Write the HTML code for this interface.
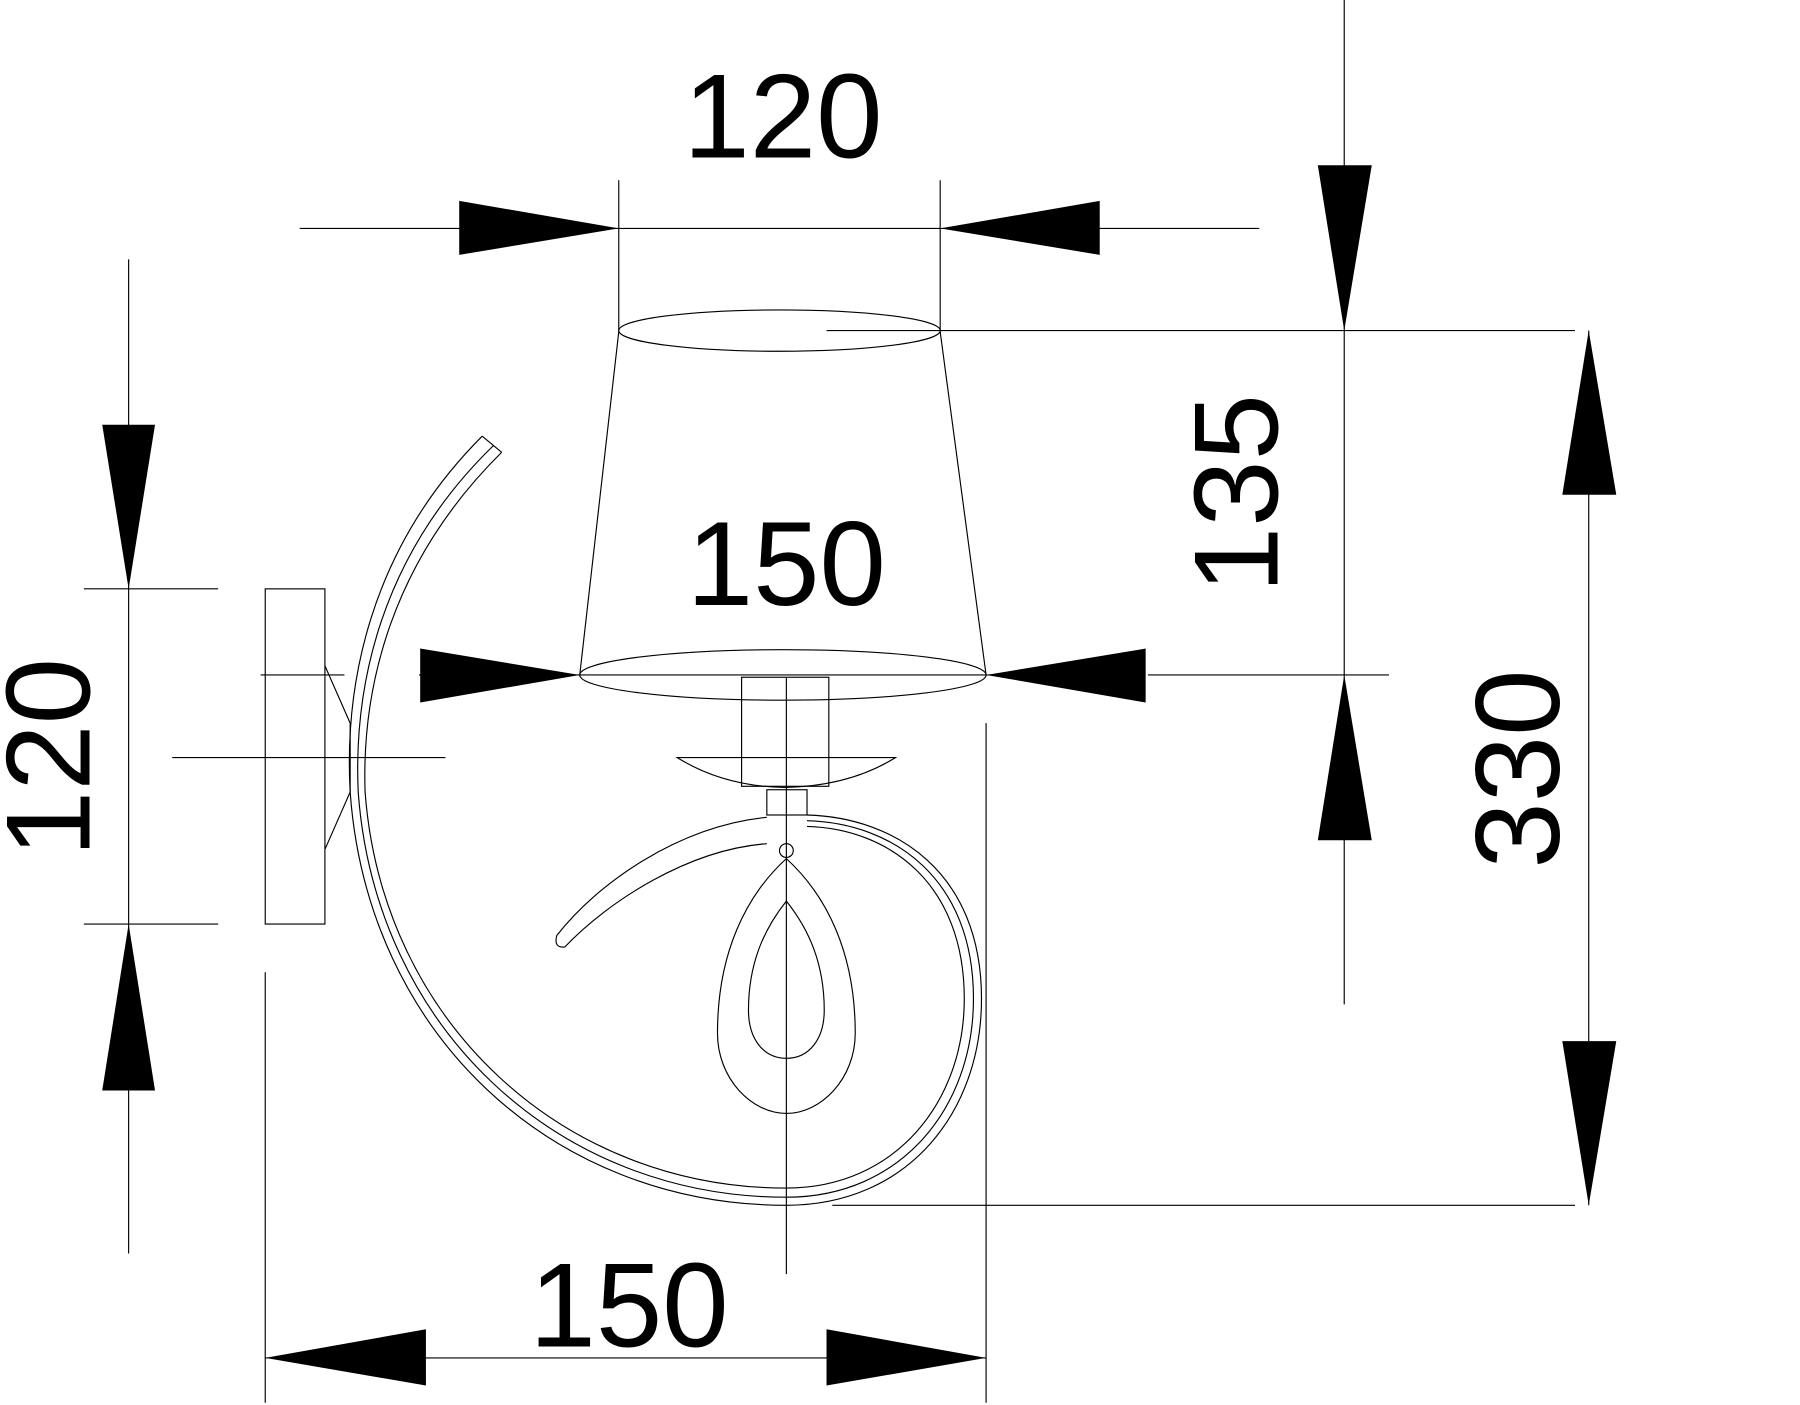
<!DOCTYPE html>
<html><head><meta charset="utf-8"><style>
html,body{margin:0;padding:0;background:#fff;}
svg{display:block}
text{font-family:"Liberation Sans",sans-serif;font-size:104px;fill:#000;}
</style></head><body>
<svg width="1800" height="1405" viewBox="0 0 1568 1224" xmlns="http://www.w3.org/2000/svg">
<g stroke="#000" stroke-width="1" fill="none">
<!-- top dim 120 -->
<line x1="261" y1="199" x2="1097" y2="199"/>
<line x1="539" y1="157" x2="539" y2="290"/>
<line x1="819" y1="157" x2="819" y2="290"/>
<!-- shade -->
<ellipse cx="679" cy="288" rx="140" ry="18"/>
<line x1="720" y1="288" x2="1372" y2="288"/>
<line x1="539" y1="289" x2="505" y2="588"/>
<line x1="819" y1="289" x2="859" y2="588"/>
<ellipse cx="682" cy="588" rx="177" ry="22"/>
<line x1="365" y1="588" x2="998" y2="588"/>
<line x1="1000" y1="588" x2="1210" y2="588"/>
<!-- right dims -->
<line x1="1171" y1="0" x2="1171" y2="875"/>
<line x1="1384" y1="288" x2="1384" y2="1050"/>
<line x1="725" y1="1050" x2="1372" y2="1050"/>
<!-- left dim -->
<line x1="112" y1="226" x2="112" y2="1092"/>
<line x1="73" y1="513" x2="190" y2="513"/>
<line x1="73" y1="805" x2="190" y2="805"/>
<rect x="231" y="513" width="52" height="292"/>
<path d="M283 580 L305 630 L305 690 L283 740"/>
<line x1="227" y1="588" x2="300" y2="588"/>
<line x1="150" y1="660" x2="388" y2="660"/>
<!-- bottom dim -->
<line x1="231" y1="1183" x2="859" y2="1183"/>
<line x1="231" y1="847" x2="231" y2="1222"/>
<line x1="859" y1="630" x2="859" y2="1222"/>
<!-- center line -->
<line x1="685" y1="590" x2="685" y2="1110"/>
<!-- socket -->
<rect x="646" y="590" width="76" height="95"/>
<path d="M590 660 L780 660 Q740 685 683 686 Q630 685 590 660 Z"/>
<rect x="668" y="688" width="35" height="22"/>
<!-- arm -->
<path d="M420 380 C320 480 300 600 305 690 C320 900 480 1050 685 1050 C790 1050 855 970 855 870 C855 760 780 712 703 710"/>
<path d="M437 394 C340 490 315 600 318 690 C333 890 490 1035 685 1035 C780 1035 840 960 840 870 C840 770 775 722 703 720"/>
<path d="M430 388 C330 485 308 600 312 690 C327 895 485 1043 685 1043 C785 1043 848 965 848 870 C848 765 778 717 703 715"/>
<line x1="420" y1="380" x2="437" y2="394"/>
<!-- inner arm -->
<path d="M668 712 C590 720 520 770 485 815 Q482 826 492 825 C530 785 600 740 668 735"/>
<circle cx="685" cy="741" r="6"/>
<!-- teardrops -->
<path d="M685 748 C650 780 625 830 625 900 C625 940 655 970 685 970 C715 970 745 940 745 900 C745 830 720 780 685 748 Z"/>
<path d="M685 785 C665 810 652 840 652 880 C652 905 665 922 685 922 C705 922 718 905 718 880 C718 840 705 810 685 785 Z"/>
</g>
<g fill="#000">
<polygon points="400,175 400,222 539,199"/>
<polygon points="958,175 958,222 819,199"/>
<polygon points="366,565 366,612 505,588"/>
<polygon points="998,565 998,612 859,588"/>
<polygon points="1148,144 1195,144 1171,288"/>
<polygon points="1148,732 1195,732 1171,588"/>
<polygon points="1361,431 1408,431 1384,288"/>
<polygon points="1361,907 1408,907 1384,1050"/>
<polygon points="89,370 135,370 112,513"/>
<polygon points="89,950 135,950 112,805"/>
<polygon points="371,1158 371,1207 231,1183"/>
<polygon points="720,1158 720,1207 859,1183"/>
</g>
<text x="682" y="137" text-anchor="middle">120</text>
<text x="685" y="527" text-anchor="middle">150</text>
<text x="548" y="1173" text-anchor="middle">150</text>
<text transform="translate(1113,430) rotate(-90)" text-anchor="middle">135</text>
<text transform="translate(1358,670) rotate(-90)" text-anchor="middle">330</text>
<text transform="translate(78,660) rotate(-90)" text-anchor="middle">120</text>
</svg>
</body></html>
